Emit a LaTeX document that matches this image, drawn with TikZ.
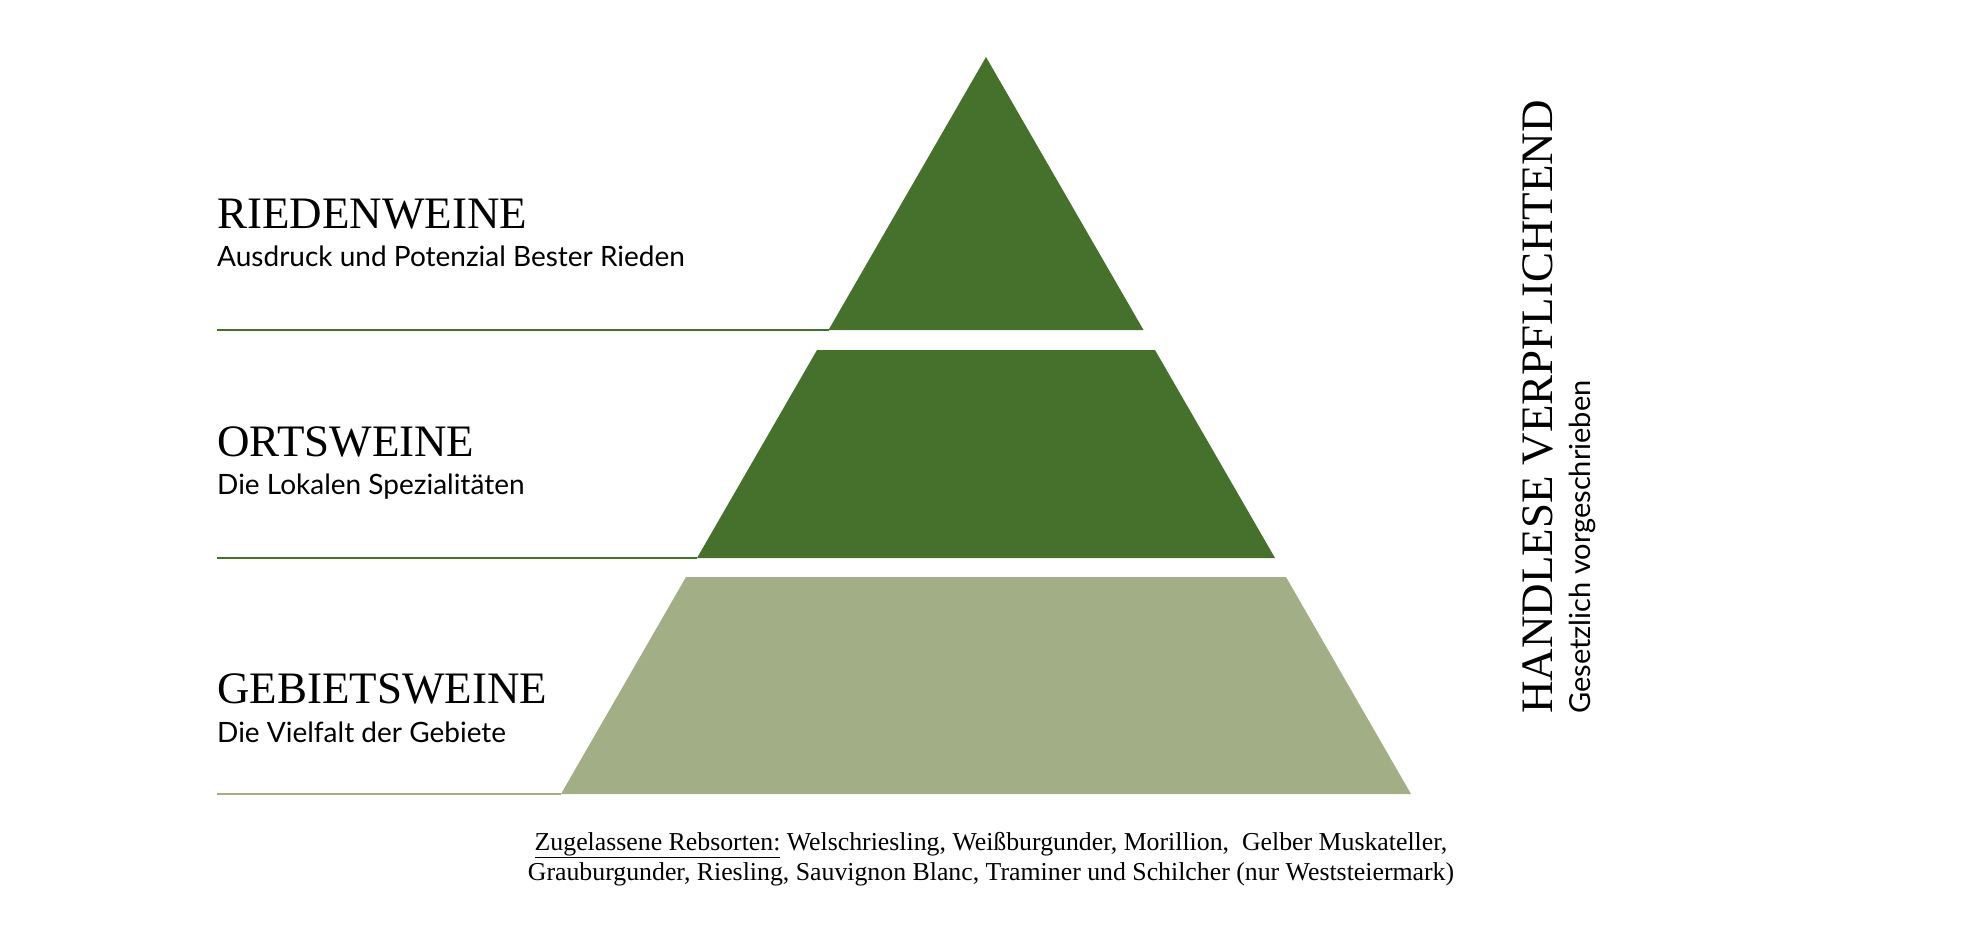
\documentclass[tikz,border=0pt]{standalone}
\usepackage{fontspec}
\setmainfont{Liberation Serif}
\newfontfamily\latofont{Lato}
\definecolor{darkvine}{HTML}{45712D}
\definecolor{lightvine}{HTML}{A2AE86}

\begin{document}
\begin{tikzpicture}[x=1pt,y=-1pt,
        title/.style = {anchor=base west, inner sep=0pt, font=\fontsize{45}{48}\selectfont},
        sub/.style = {anchor=base west, inner sep=0pt, font=\latofont\fontsize{28}{30}\selectfont},
        grapes/.style = {anchor=base, inner sep=0pt, font=\fontsize{25.8}{30}\selectfont},
        rule/.style = {line width=2pt}
    ]
        \useasboundingbox (0,0) rectangle (1980,944);
        % pyramid
        \coordinate (top) at (986,57);
        \coordinate (tribl) at (828.5,330);  \coordinate (tribr) at (1143.5,330);
        \coordinate (midtl) at (817,350);    \coordinate (midtr) at (1155,350);
        \coordinate (midbl) at (697,558);    \coordinate (midbr) at (1275,558);
        \coordinate (bottl) at (686,577);    \coordinate (bottr) at (1286,577);
        \coordinate (botbl) at (561,794);    \coordinate (botbr) at (1411,794);
        \fill[darkvine] (top) -- (tribr) -- (tribl) -- cycle;
        \fill[darkvine] (midtl) -- (midtr) -- (midbr) -- (midbl) -- cycle;
        \fill[lightvine] (bottl) -- (bottr) -- (botbr) -- (botbl) -- cycle;
        % rules
        \coordinate (riedrule) at (217,330);
        \coordinate (ortsrule) at (217,558);
        \coordinate (gebrule) at (217,794);
        \draw[rule, darkvine] (riedrule) -- (tribl);
        \draw[rule, darkvine] (ortsrule) -- (midbl);
        \draw[rule, lightvine] (gebrule) -- (botbl);
        % levels
        \node[title] (ried) at (217,228) {RIEDENWEINE};
        \node[sub] (riedsub) at (217,266) {Ausdruck und Potenzial Bester Rieden};
        \node[title] (orts) at (217,456) {ORTSWEINE};
        \node[sub] (ortssub) at (217,494) {Die Lokalen Spezialitäten};
        \node[title] (geb) at (217,703) {GEBIETSWEINE};
        \node[sub] (gebsub) at (217,742) {Die Vielfalt der Gebiete};
        % side
        \node[title, rotate=90] (hand) at (1552,714) {HANDLESE VERPFLICHTEND};
        \node[sub, rotate=90, font=\latofont\fontsize{29}{30}\selectfont] (handsub) at (1590,714) {Gesetzlich vorgeschrieben};
        % grapes
        \node[grapes] (grapesa) at (991,850) {\underline{Zugelassene Rebsorten:} Welschriesling, Weißburgunder, Morillion, \ Gelber Muskateller,};
        \node[grapes] (grapesb) at (991,880) {Grauburgunder, Riesling, Sauvignon Blanc, Traminer und Schilcher (nur Weststeiermark)};
    \end{tikzpicture}
\end{document}
